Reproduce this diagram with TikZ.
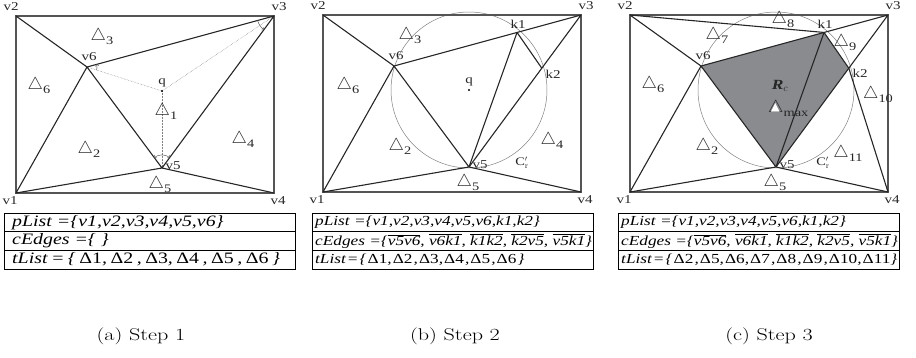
\documentclass[tikz,border=0pt]{standalone}
\usepackage{fontspec}
\usepackage{xcolor}
\usetikzlibrary{angles,calc,positioning}
\newfontfamily\tms[FakeStretch=1.25]{Liberation Serif}
\newfontfamily\capfont[FakeStretch=1.3]{Latin Modern Roman}
\definecolor{regiongray}{RGB}{137,139,143}
\definecolor{framegray}{RGB}{85,85,85}
\newcommand{\tri}[1]{{\fontsize{17}{17}\selectfont$\bigtriangleup$}\raisebox{-4pt}{#1}}
\newcommand{\dl}[1]{{\upshape Δ#1}}
\newcommand{\segbar}[1]{$\overline{\hbox{#1}}$}
% points shared by the three steps
\newcommand{\meshpoints}{%
  \coordinate (v2) at (0,0);
  \coordinate (v3) at (258,0);
  \coordinate (v1) at (0,-177);
  \coordinate (v4) at (258,-177);
  \coordinate (v6) at (71,-51);
  \coordinate (v5) at (146,-152);
  \coordinate (q) at (146,-75);
  \coordinate (k1) at ($(v6)!0.658!(v3)$);
  \coordinate (k2) at ($(v5)!0.65!(v3)$);
  \node[vlab] (l2) at (-5,9) {v2};
  \node[vlab] (l3) at (263,9) {v3};
  \node[vlab] (l1) at (-6,-185) {v1};
  \node[vlab] (l4) at (262,-185) {v4};
  \node[vlab] (l6) at (73,-41) {v6};
  \node[vlab] (l5) at (157,-150) {v5};}

\begin{document}
\begin{tikzpicture}[x=1pt, y=1pt,
    border/.style={line width=1.4pt, framegray},
    edge/.style={line width=1.1pt, black!85, line join=round},
    probe/.style={densely dotted, line width=0.5pt, gray},
    circ/.style={line width=0.5pt, gray},
    anglemark/.style={draw, line width=0.5pt, gray!70!black},
    vlab/.style={font=\tms\fontsize{12}{12}\selectfont, inner sep=0pt, black!85},
    tlab/.style={font=\tms\fontsize{11.5}{11.5}\selectfont, inner sep=0pt, black!85},
    listbox/.style={draw, line width=0.8pt},
    biglist/.style={font=\tms\itshape\fontsize{15.9}{15.9}\selectfont, anchor=west, inner sep=0pt},
    smalllist/.style={font=\tms\itshape\fontsize{13.8}{13.8}\selectfont, anchor=west, inner sep=0pt},
    tight/.style={execute at begin node={\spaceskip=#1\relax}},
    steplabel/.style={font=\capfont\fontsize{17}{17}\selectfont, inner sep=0pt}]
  \useasboundingbox (0,0) rectangle (916,-357);

  % (a) step 1
  \begin{scope}[shift={(16,-16)}]
    \meshpoints
    \draw[border] (v1) rectangle (v3);
    \draw[probe] (v6) -- (q) -- (v3);
    \draw[probe] (q) -- (v5);
    \draw[edge] (v2) -- (v6) -- (v3) -- (v5) -- (v6) -- (v1) -- (v5) -- (v4);
    \pic[anglemark, ->, angle radius=10pt] {angle = q--v6--v3};
    \pic[anglemark, ->, angle radius=17pt] {angle = v6--v3--v5};
    \pic[anglemark, <->, angle radius=13pt] {angle = v3--v5--v6};
    \fill (q) circle (1.1);
    \node[vlab] (lq) at (146,-67) {q};
    \node[tlab] (t3) at (86,-21) {\tri{3}};
    \node[tlab] (t6) at (23,-70) {\tri{6}};
    \node[tlab] (t1) at (150,-95) {\tri{1}};
    \node[tlab] (t2) at (73,-133) {\tri{2}};
    \node[tlab] (t4) at (227,-123) {\tri{4}};
    \node[tlab] (t5) at (144,-169) {\tri{5}};
  \end{scope}

  % (b) step 2
  \begin{scope}[shift={(323,-15)}]
    \meshpoints
    \draw[circ] (q) circle (78);
    \draw[border] (v1) rectangle (v3);
    \draw[edge] (v2) -- (v6) -- (k1) -- (v3) -- (k2) -- (v5) -- (v6) -- (v1) -- (v5) -- (v4);
    \draw[edge] (v5) -- (k1) -- (k2);
    \fill (q) circle (1.1);
    \node[vlab] (lq) at (146,-67) {q};
    \node[vlab] (lk1) at (195,-9) {k1};
    \node[vlab] (lk2) at (230,-59) {k2};
    \node[tlab] (t3) at (87,-21) {\tri{3}};
    \node[tlab] (t6) at (25,-71) {\tri{6}};
    \node[tlab] (t2) at (77,-131) {\tri{2}};
    \node[tlab] (t4) at (229,-125) {\tri{4}};
    \node[tlab] (t5) at (145,-168) {\tri{5}};
    \node[tlab] (cr) at (199,-148) {C$'_{\mathrm{r}}$};
  \end{scope}

  % (c) step 3
  \begin{scope}[shift={(630,-15)}]
    \meshpoints
    \fill[regiongray] (v6) -- (k1) -- (k2) -- (v5) -- cycle;
    \draw[circ] (q) circle (78);
    \draw[border] (v1) rectangle (v3);
    \draw[edge] (v2) -- (v6) -- (k1) -- (v3) -- (k2) -- (v5) -- (v6) -- (v1) -- (v5) -- (v4);
    \draw[edge] (v2) -- (k1) -- (k2) -- (v4);
    \draw[edge] (v5) -- (k1);
    \node[vlab] (lk1) at (195,-9) {k1};
    \node[vlab] (lk2) at (230,-58) {k2};
    \node[tlab] (t8) at (153,-5) {\tri{8}};
    \node[tlab] (t7) at (87,-20) {\tri{7}};
    \node[tlab] (t9) at (215,-28) {\tri{9}};
    \node[tlab] (t10) at (248,-80) {\tri{10}};
    \node[tlab] (t6) at (23,-70) {\tri{6}};
    \node[tlab] (t2) at (77,-131) {\tri{2}};
    \node[tlab] (t11) at (218,-138) {\tri{11}};
    \node[tlab] (t5) at (145,-168) {\tri{5}};
    \node[tlab, font=\tms\fontsize{14}{14}\selectfont] (rc) at (150,-71) {\bfseries\itshape R$_c$};
    \node[tlab, anchor=base west] (tmax) at (138,-97) {\tri{max}};
    \fill[white] ($(tmax.base west)+(3,0.5)$) -- ++(8.5,0) -- ++(-4.25,8.3) -- cycle;
    \node[tlab] (cr) at (193,-148) {C$'_{\mathrm{r}}$};
  \end{scope}

  % lists under each step
  \draw[listbox] (4,-213) rectangle (295,-269);
  \draw[listbox] (4,-231.7) -- (295,-231.7) (4,-250.3) -- (295,-250.3);
  \node[biglist] (pa) at (12,-222.5) {pList =\{v1,v2,v3,v4,v5,v6\}};
  \node[biglist] (ca) at (12,-241) {cEdges =\{ \}};
  \node[biglist, tight=0.22em] (ta) at (12,-259.5) {tList = \{ \dl1, \dl2 , \dl3, \dl4 , \dl5 , \dl6 \}};

  \draw[listbox] (312,-213) rectangle (593,-269);
  \draw[listbox] (312,-231.7) -- (593,-231.7) (312,-250.3) -- (593,-250.3);
  \node[smalllist] (pb) at (315,-222.5) {pList =\{v1,v2,v3,v4,v5,v6,k1,k2\}};
  \node[smalllist] (cb) at (315,-241) {cEdges =\{\segbar{v5v6}, \segbar{v6k1}, \segbar{k1k2}, \segbar{k2v5}, \segbar{v5k1}\}};
  \node[smalllist, tight=0.08em] (tb) at (315,-259.5) {tList = \{ \dl1, \dl2 , \dl3, \dl4 , \dl5 , \dl6 \}};

  \draw[listbox] (618,-213) rectangle (899,-269);
  \draw[listbox] (618,-231.7) -- (899,-231.7) (618,-250.3) -- (899,-250.3);
  \node[smalllist] (pc) at (621,-222.5) {pList =\{v1,v2,v3,v4,v5,v6,k1,k2\}};
  \node[smalllist] (cc) at (621,-241) {cEdges =\{\segbar{v5v6}, \segbar{v6k1}, \segbar{k1k2}, \segbar{k2v5}, \segbar{v5k1}\}};
  \node[smalllist, tight=0.08em] (tc) at (621,-259.5) {tList = \{ \dl2 , \dl5, \dl6, \dl7 , \dl8 , \dl9 , \dl{10}, \dl{11}\}};

  \node[steplabel] (capa) at (141,-336) {(a) Step 1};
  \node[steplabel] (capb) at (455,-336) {(b) Step 2};
  \node[steplabel] (capc) at (769,-336) {(c) Step 3};
\end{tikzpicture}
\end{document}
